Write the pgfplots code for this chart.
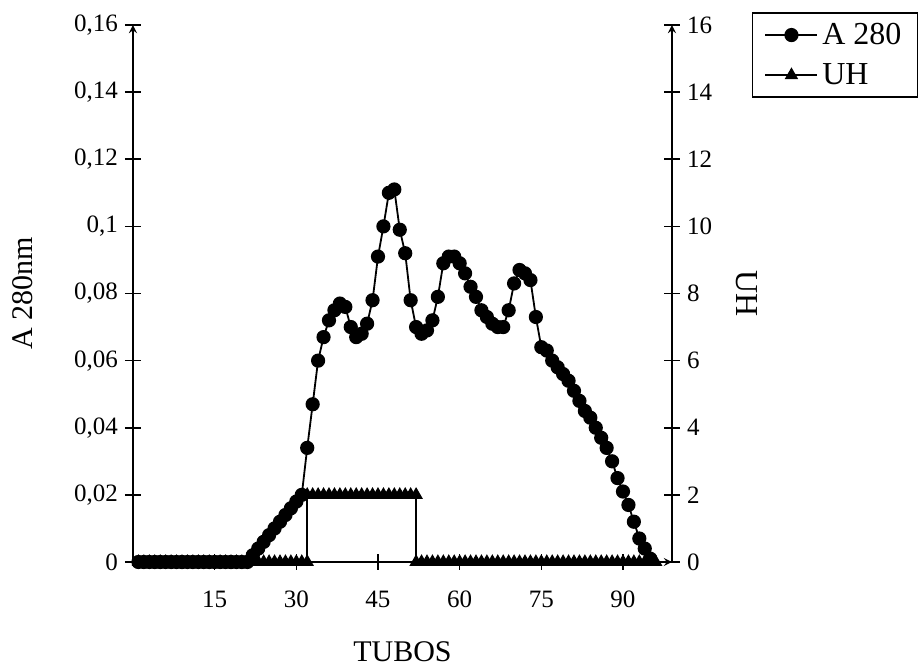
\documentclass[border=0pt]{standalone}
\usepackage{fontspec}
\setmainfont{Liberation Serif}
\usepackage{pgfplots}
\pgfplotsset{compat=1.18}
\begin{document}
\begin{tikzpicture}
\path[use as bounding box] (-66.5pt,-53.5pt) rectangle (392.5pt,281pt);
\pgfplotsset{
  every axis/.append style={
    scale only axis, width=269.5pt, height=268.5pt,
    at={(0,0)}, anchor=south west,
    xmin=0, xmax=99,
    /pgf/number format/assume math mode=true,
    tick label style={font=\fontsize{12.5}{15}\selectfont},
    label style={font=\fontsize{15}{18}\selectfont},
    tick align=center, major tick length=8pt,
    axis line style={line width=0.8pt,-},
    tick style={line width=0.8pt,black},
  }
}
% A 280 (left axis)
\begin{axis}[
  axis x line=bottom, axis y line=left,
  ymin=0, ymax=0.16,
  ytick={0,0.02,0.04,0.06,0.08,0.1,0.12,0.14,0.16},
  yticklabels={0,{0,02},{0,04},{0,06},{0,08},{0,1},{0,12},{0,14},{0,16}},
  xtick={15,30,45,60,75,90},
  xticklabel style={yshift=-7pt},
  xlabel={TUBOS}, xlabel style={yshift=-10pt},
  ylabel={A 280nm}, ylabel style={yshift=14pt},
]
\addplot[black, line width=0.9pt, mark=*, mark size=3.1pt] coordinates {
  (1,0)(2,0)(3,0)(4,0)(5,0)(6,0)(7,0)(8,0)(9,0)(10,0)
  (11,0)(12,0)(13,0)(14,0)(15,0)(16,0)(17,0)(18,0)(19,0)(20,0)(21,0)
  (22,0.002)(23,0.004)(24,0.006)(25,0.008)(26,0.010)(27,0.012)(28,0.014)
  (29,0.016)(30,0.018)(31,0.020)
  (32,0.034)(33,0.047)(34,0.060)(35,0.067)(36,0.072)(37,0.075)(38,0.077)
  (39,0.076)(40,0.070)(41,0.067)(42,0.068)(43,0.071)(44,0.078)(45,0.091)
  (46,0.100)(47,0.110)(48,0.111)(49,0.099)(50,0.092)(51,0.078)(52,0.070)
  (53,0.068)(54,0.069)(55,0.072)(56,0.079)(57,0.089)(58,0.091)(59,0.091)
  (60,0.089)(61,0.086)(62,0.082)(63,0.079)(64,0.075)(65,0.073)(66,0.071)
  (67,0.070)(68,0.070)(69,0.075)(70,0.083)(71,0.087)(72,0.086)(73,0.084)
  (74,0.073)(75,0.064)(76,0.063)(77,0.060)(78,0.058)(79,0.056)(80,0.054)
  (81,0.051)(82,0.048)(83,0.045)(84,0.043)(85,0.040)(86,0.037)(87,0.034)
  (88,0.030)(89,0.025)(90,0.021)(91,0.017)(92,0.012)(93,0.007)(94,0.004)
  (95,0.001)};
\end{axis}
% UH (right axis)
\begin{axis}[
  axis x line=none, axis y line=right,
  ymin=0, ymax=16, ytick={0,2,...,16},
  ylabel={UH}, ylabel style={rotate=180, yshift=5pt, font=\fontsize{16}{18}\selectfont},
  legend image code/.code={
    \draw[mark repeat=2, mark phase=2, #1]
      plot coordinates {(0pt,0pt) (13pt,0pt) (26pt,0pt)};},
  legend style={at={(1.148,1.024)}, anchor=north west, draw=black,
    line width=0.8pt, font=\fontsize{16}{19}\selectfont,
    legend cell align=left, row sep=4pt, inner xsep=6pt, inner ysep=3pt},
]
\addlegendimage{black, line width=0.9pt, mark=*, mark size=3.1pt}
\addlegendentry{A 280}
\addplot[black, line width=0.9pt, mark=triangle*, mark size=3pt] coordinates {
  (1,0)(2,0)(3,0)(4,0)(5,0)(6,0)(7,0)(8,0)(9,0)(10,0)
  (11,0)(12,0)(13,0)(14,0)(15,0)(16,0)(17,0)(18,0)(19,0)(20,0)
  (21,0)(22,0)(23,0)(24,0)(25,0)(26,0)(27,0)(28,0)(29,0)(30,0)
  (31,0)(32,0)
  (32,2)(33,2)(34,2)(35,2)(36,2)(37,2)(38,2)(39,2)(40,2)(41,2)
  (42,2)(43,2)(44,2)(45,2)(46,2)(47,2)(48,2)(49,2)(50,2)(51,2)(52,2)
  (52,0)(53,0)(54,0)(55,0)(56,0)(57,0)(58,0)(59,0)(60,0)(61,0)
  (62,0)(63,0)(64,0)(65,0)(66,0)(67,0)(68,0)(69,0)(70,0)(71,0)
  (72,0)(73,0)(74,0)(75,0)(76,0)(77,0)(78,0)(79,0)(80,0)(81,0)
  (82,0)(83,0)(84,0)(85,0)(86,0)(87,0)(88,0)(89,0)(90,0)(91,0)
  (92,0)(93,0)(94,0)(95,0)(96,0)};
\addlegendentry{UH}
\end{axis}
\end{tikzpicture}
\end{document}
